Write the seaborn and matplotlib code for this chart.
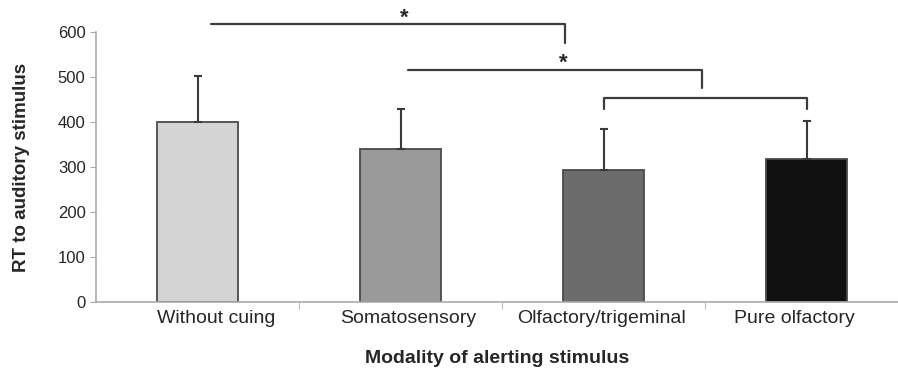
import matplotlib
matplotlib.use("Agg")
import matplotlib.pyplot as plt
import seaborn as sns
import pandas as pd

categories = ["Without cuing", "Somatosensory", "Olfactory/trigeminal", "Pure olfactory"]
rt_means = [400, 340, 293, 319]
rt_sd = [103, 89, 91, 84]
bar_colors = ["#d4d4d4", "#9a9a9a", "#6c6c6c", "#101010"]

sns.set_style("white")
plt.rcParams["font.family"] = ["Liberation Sans", "DejaVu Sans"]

df = pd.DataFrame({"modality": categories, "rt": rt_means})

fig = plt.figure(figsize=(8.98, 3.69), dpi=100)
ax = fig.add_axes([96 / 898, 1 - 302 / 369, (898 - 96) / 898, (302 - 32.3) / 369])

sns.barplot(data=df, x="modality", y="rt", hue="modality", palette=bar_colors,
            legend=False, width=0.4, edgecolor="#4a4a4a", linewidth=1.3, ax=ax)

# upper error bars only
ax.errorbar(range(len(categories)), rt_means, yerr=[[0] * len(rt_sd), rt_sd],
            fmt="none", ecolor="#3a3a3a", elinewidth=1.5, capsize=3, capthick=1.5)

ax.set_ylim(0, 600)
ax.set_xlim(-0.5, 3.45)
ax.set_yticks(range(0, 601, 100))
ax.tick_params(axis="y", labelsize=12, length=4, color="#aaaaaa", direction="out", left=True)
# labels sit slightly off the bar centres in the original
ax.set_xticks([0.09, 1.04, 1.99, 2.94], labels=categories)
ax.tick_params(axis="x", which="major", labelsize=14, length=0, pad=6)
ax.set_xticks([0.5, 1.5, 2.5], minor=True)
ax.tick_params(axis="x", which="minor", length=5, color="#aaaaaa", bottom=True)

for side in ["top", "right"]:
    ax.spines[side].set_visible(False)
for side in ["left", "bottom"]:
    ax.spines[side].set_color("#aaaaaa")
    ax.spines[side].set_linewidth(1.2)

ax.set_xlabel("Modality of alerting stimulus", fontsize=14, fontweight="bold", labelpad=16)
ax.set_ylabel("RT to auditory stimulus", fontsize=13.5, fontweight="bold", labelpad=20)

# significance brackets
line_kw = dict(color="#3c3c3c", lw=1.6, clip_on=False)
ax.plot([0.066, 1.81, 1.81], [618, 618, 576], **line_kw)
ax.text(1.02, 609, "*", ha="center", va="bottom", fontsize=16, fontweight="bold", clip_on=False)
ax.plot([1.037, 2.485, 2.485], [516, 516, 475], **line_kw)
ax.text(1.80, 507, "*", ha="center", va="bottom", fontsize=16, fontweight="bold", clip_on=False)
ax.plot([2.0, 2.0, 3.0, 3.0], [429, 453, 453, 429], **line_kw)

fig.savefig("out.png", dpi=100)
